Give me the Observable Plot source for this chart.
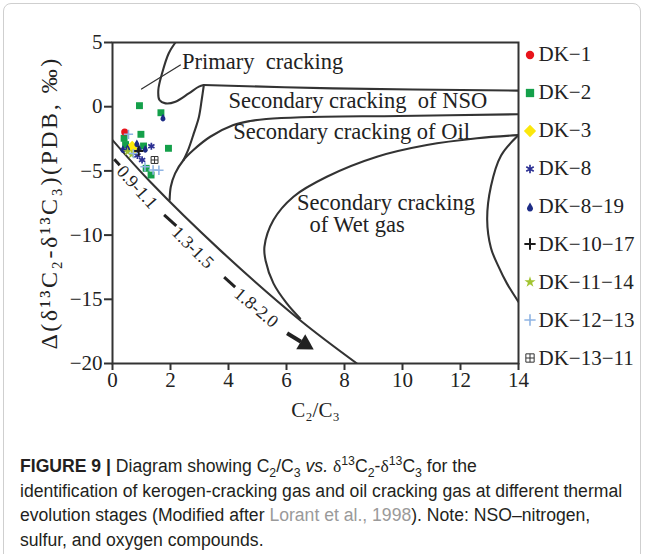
<!DOCTYPE html>
<html>
<head>
<meta charset="utf-8">
<script src="https://cdn.jsdelivr.net/npm/d3@7"></script>
<script src="https://cdn.jsdelivr.net/npm/@observablehq/plot@0.6"></script>
<style>
  html, body { margin: 0; padding: 0; background: #fff; }
  #page { position: relative; width: 647px; height: 554px; overflow: hidden; }
  #border { position: absolute; left: 3px; top: 3px; width: 636px; height: 600px; border: 1px solid #cfcfcf; border-radius: 8px; }
  #chart { position: absolute; left: 0; top: 0; }
  #legend { position: absolute; left: 521.5px; top: 36px; font-family: "Liberation Serif", "Times New Roman", serif; font-size: 21px; color: #222; }
  #legend .row { display: flex; align-items: center; height: 37.9px; white-space: nowrap; }
  #legend svg { display: block; margin-right: 1px; overflow: visible; }
  #caption { position: absolute; left: 20px; top: 454px; font-family: "Liberation Sans", Arial, sans-serif; font-size: 17.6px; line-height: 24.6px; color: #231f20; white-space: nowrap; }
  #caption .ref { color: #9a9a9a; }
  #caption sub, #caption sup { font-size: 70%; line-height: 0; }
</style>
</head>
<body>
<div id="page">
  <div id="border"></div>
  <div id="chart"></div>
  <div id="legend"></div>
  <div id="caption">
    <b>FIGURE 9 |</b> Diagram showing C<sub>2</sub>/C<sub>3</sub> <i>vs.</i> <span style="font-family:'Liberation Serif',serif">δ</span><sup>13</sup>C<sub>2</sub>-<span style="font-family:'Liberation Serif',serif">δ</span><sup>13</sup>C<sub>3</sub> for the<br>
    identification of kerogen-cracking gas and oil cracking gas at different thermal<br>
    evolution stages (Modified after <span class="ref">Lorant et al., 1998</span>). Note: NSO–nitrogen,<br>
    sulfur, and oxygen compounds.
  </div>
</div>
<script>
// ---------------- data ----------------
const xTicks = [0, 2, 4, 6, 8, 10, 12, 14];
const yTicks = [-20, -15, -10, -5, 0, 5];
const xLabel = "C₂/C₃";
const yLabel = "Δ(δ¹³C₂-δ¹³C₃)(PDB, ‰)";

// sample series: [C2/C3, δ13C2-δ13C3]
const seriesNames = ["DK-1", "DK-2", "DK-3", "DK-8", "DK-8-19", "DK-10-17", "DK-11-14", "DK-12-13", "DK-13-11"];
const dk1 = [[0.42, -1.98]];
const dk2 = [[0.93, 0.08], [1.67, -0.47], [0.98, -2.15], [1.07, -3.06], [1.93, -3.24], [0.40, -2.46], [1.16, -4.8], [1.33, -5.32], [0.45, -2.95]];
const dk3 = [[0.68, -3.05], [0.74, -3.35]];
const dk8 = [[1.34, -3.08], [1.02, -4.15], [0.86, -3.8]];
const dk8_19 = [[1.74, -0.85], [0.36, -3.3], [0.84, -2.85], [1.13, -3.28], [0.92, -3.25], [0.52, -3.22]];
const dk10_17 = [[0.9, -3.45]];
const dk11_14 = [[0.52, -3.5], [0.66, -3.72]];
const dk12_13 = [[0.55, -2.15], [0.72, -3.65], [1.12, -4.68], [1.4, -4.93], [1.6, -4.95]];
const dk13_11 = [[1.45, -4.15]];

// region boundary curves (Lorant et al., 1998), [C2/C3, Δδ13C]
const primaryLoop = [[2.17, 5.0], [1.94, 4.16], [1.71, 2.6], [1.58, 1.3], [1.62, 0.52], [1.83, 0.26], [2.17, 0.39], [2.63, 1.04], [2.98, 1.56], [3.15, 1.69]];
const nsoTop = [[3.15, 1.69], [7.6, 1.43], [14, 1.25]];
const nsoSide = [[3.15, 1.69], [3.08, 0.6], [2.98, -0.8], [2.8, -2.1], [2.62, -3.3], [2.45, -4.15]];
const oilBottom = [[14, -0.59], [9.9, -0.72], [6.5, -0.82], [5.3, -0.96], [4.75, -1.11], [4.17, -1.43], [3.37, -2.34], [2.79, -3.37], [2.45, -4.15], [2.16, -5.19], [2.01, -6.24], [1.97, -7.27]];
const maturityLine = [[0, -2.6], [1.3, -5.85], [3.71, -11.17], [6.47, -16.63], [8.43, -20]];
const wetGasLeft = [[14, -2.21], [12.57, -2.46], [10.84, -2.99], [9.12, -3.9], [7.39, -5.46], [6.24, -7.01], [5.55, -8.83], [5.24, -10.9], [5.28, -12.0], [5.55, -13.76], [6.01, -15.32], [6.47, -16.49]];
const wetGasRight = [[14, -2.21], [13.4, -3.8], [13.05, -6.2], [12.92, -8.8], [13.05, -11.0], [13.3, -12.4], [13.6, -13.76], [14, -15.2]];
const leader = [[1.0, 1.38], [2.34, 3.25]];

const regionLabels = [
  {text: "Primary  cracking", x: 2.40, y: 3.48},
  {text: "Secondary cracking  of NSO", x: 4.0, y: 0.45},
  {text: "Secondary cracking of Oil", x: 4.16, y: -1.97},
  {text: "Secondary cracking", x: 6.36, y: -7.47},
  {text: "of Wet gas", x: 6.79, y: -9.22}
];
const stageLabels = [
  {text: "0.9-1.1", x: 0.85, y: -6.26, angle: 48},
  {text: "1.3-1.5", x: 2.77, y: -10.97, angle: 45},
  {text: "1.8-2.0", x: 4.96, y: -15.65, angle: 40}
];
const stageDashes = [
  {x1: 0.06, y1: -4.09, x2: 0.25, y2: -4.56},
  {x1: 1.78, y1: -8.43, x2: 2.2, y2: -9.29},
  {x1: 3.85, y1: -13.27, x2: 4.23, y2: -14.05}
];
const arrowShaft = [{x1: 6.02, y1: -17.65, x2: 6.5, y2: -18.3}];
const arrowHead = [{x: 6.64, y: -18.5, angle: 121}];

// ---------------- symbols ----------------
const drop = {
  draw(ctx, size) {
    const R = Math.sqrt(size / Math.PI) * 0.6, cy = 0.5 * R;
    ctx.moveTo(0, cy - 2 * R);
    ctx.lineTo(R * Math.cos(-Math.PI / 6), cy + R * Math.sin(-Math.PI / 6));
    ctx.arc(0, cy, R, -Math.PI / 6, 7 * Math.PI / 6);
    ctx.closePath();
  }
};
const squarePlus = {
  draw(ctx, size) {
    const s = Math.sqrt(size) / 2;
    ctx.moveTo(-s, -s); ctx.lineTo(s, -s); ctx.lineTo(s, s); ctx.lineTo(-s, s); ctx.closePath();
    ctx.moveTo(0, -s); ctx.lineTo(0, s);
    ctx.moveTo(-s, 0); ctx.lineTo(s, 0);
  }
};

const seriesData = [dk1, dk2, dk3, dk8, dk8_19, dk10_17, dk11_14, dk12_13, dk13_11];
const seriesStyles = [
  {symbol: d3.symbolCircle, r: 3.5, fill: "#e8141b", stroke: "none", strokeWidth: 0},
  {symbol: d3.symbolSquare, r: 3.9, fill: "#14a04a", stroke: "none", strokeWidth: 0},
  {symbol: d3.symbolDiamond2, r: 4.6, fill: "#fbe70c", stroke: "none", strokeWidth: 0},
  {symbol: d3.symbolAsterisk, r: 3.4, fill: "none", stroke: "#2b2f93", strokeWidth: 1.7},
  {symbol: drop, r: 4.2, fill: "#1d2c86", stroke: "none", strokeWidth: 0},
  {symbol: d3.symbolPlus, r: 3.1, fill: "none", stroke: "#1a1a1a", strokeWidth: 2},
  {symbol: d3.symbolStar, r: 2.9, fill: "#a2c431", stroke: "none", strokeWidth: 0},
  {symbol: d3.symbolPlus, r: 3.1, fill: "none", stroke: "#8fb4e3", strokeWidth: 1.6},
  {symbol: squarePlus, r: 3.9, fill: "#fff", stroke: "#333", strokeWidth: 1}
];
const drawOrder = [1, 0, 2, 4, 3, 5, 6, 7, 8];

// ---------------- plot ----------------
const curveStyle = {x: d => d[0], y: d => d[1], curve: "catmull-rom", stroke: "#333", strokeWidth: 2.1, clip: true};
const serif = "'Liberation Serif', 'Times New Roman', serif";

const dotMarks = drawOrder.map(i => {
  const s = seriesStyles[i];
  return Plot.dot(seriesData[i], {
    x: d => d[0], y: d => d[1], symbol: s.symbol, r: s.r,
    fill: s.fill, stroke: s.stroke, strokeWidth: s.strokeWidth
  });
});

const chart = Plot.plot({
  width: 647, height: 430,
  marginLeft: 112, marginRight: 129, marginTop: 42, marginBottom: 67,
  x: {domain: [0, 14]},
  y: {domain: [-20, 5]},
  style: {fontFamily: serif, fontSize: "21px", color: "#222", background: "transparent", overflow: "visible"},
  marks: [
    Plot.line(primaryLoop, curveStyle),
    Plot.line(nsoTop, curveStyle),
    Plot.line(nsoSide, curveStyle),
    Plot.line(oilBottom, curveStyle),
    Plot.line(maturityLine, curveStyle),
    Plot.line(wetGasLeft, curveStyle),
    Plot.line(wetGasRight, curveStyle),
    Plot.line(leader, {x: d => d[0], y: d => d[1], stroke: "#333", strokeWidth: 1.3}),
    Plot.link(stageDashes, {x1: "x1", y1: "y1", x2: "x2", y2: "y2", stroke: "#222", strokeWidth: 3}),
    Plot.link(arrowShaft, {x1: "x1", y1: "y1", x2: "x2", y2: "y2", stroke: "#222", strokeWidth: 4}),
    Plot.dot(arrowHead, {x: "x", y: "y", rotate: "angle", symbol: "triangle", r: 6.5, fill: "#222", stroke: "none"}),
    Plot.text(regionLabels, {x: "x", y: "y", text: "text", textAnchor: "start", fontSize: 22.5, fill: "#222"}),
    Plot.text(stageLabels, {x: "x", y: "y", text: "text", rotate: "angle", fontSize: 18, fill: "#222"}),
    ...dotMarks,
    Plot.frame({stroke: "#333", strokeWidth: 2}),
    Plot.axisX({ticks: xTicks, tickSize: 7, tickPadding: 2, label: null, stroke: "#333", strokeWidth: 2, fontSize: 21}),
    Plot.axisY({ticks: yTicks, tickSize: 8, tickPadding: 2, label: null, stroke: "#333", strokeWidth: 2, fontSize: 21}),
    Plot.text([xLabel], {frameAnchor: "bottom", dy: 47, lineAnchor: "middle", textAnchor: "middle", text: d => d, fontSize: 21, fill: "#222"}),
    Plot.text([yLabel], {frameAnchor: "left", dx: -63, rotate: -90, lineAnchor: "middle", textAnchor: "middle", text: d => d, fontSize: 24, fill: "#222"})
  ]
});
chart.querySelectorAll("text").forEach(t => {
  t.setAttribute("xml:space", "preserve");
  if (t.textContent === yLabel) t.setAttribute("letter-spacing", "2.5");
});
document.getElementById("chart").appendChild(chart);

// ---------------- legend ----------------
const legend = d3.select("#legend");
seriesNames.forEach((name, i) => {
  const s = seriesStyles[i];
  const row = legend.append("div").attr("class", "row");
  const svg = row.append("svg").attr("width", 16).attr("height", 16).attr("viewBox", "-8 -8 16 16");
  const rr = s.r * 1.2;
  svg.append("path")
    .attr("d", d3.symbol(s.symbol, Math.PI * rr * rr)())
    .attr("fill", s.fill).attr("stroke", s.stroke).attr("stroke-width", s.strokeWidth);
  row.append("span").text(name.replace(/-/g, "−"));
});
</script>
</body>
</html>
